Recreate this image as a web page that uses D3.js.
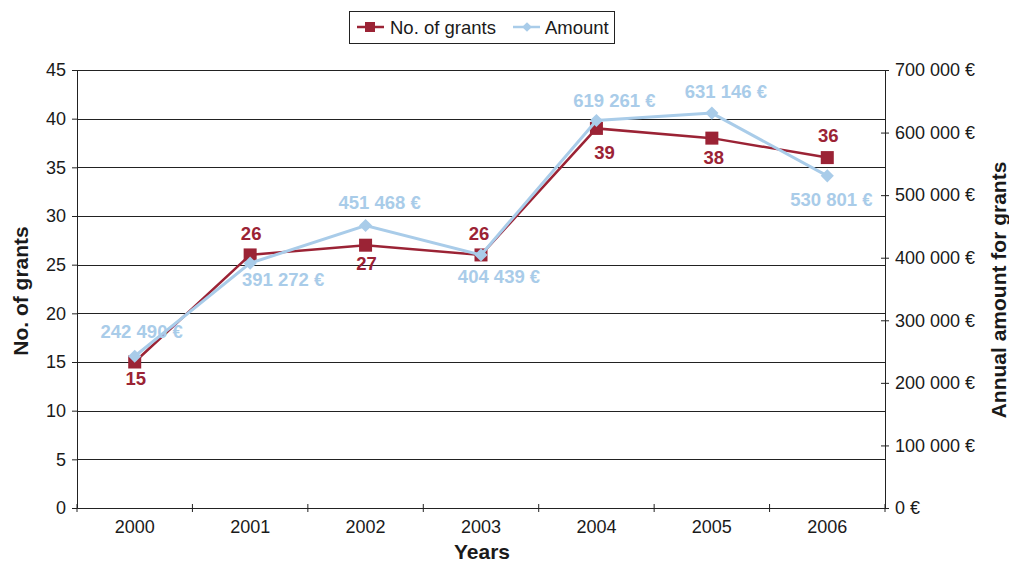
<!DOCTYPE html>
<html><head><meta charset="utf-8">
<script src="https://cdn.jsdelivr.net/npm/d3@7"></script>
<style>body{margin:0;background:#fff}svg{display:block;font-family:"Liberation Sans",Arial,sans-serif}</style>
</head><body>
<svg id="c" width="1009" height="564"></svg>
<script>
const years = ["2000","2001","2002","2003","2004","2005","2006"];
const grants = [15, 26, 27, 26, 39, 38, 36];
const amounts = [242490, 391272, 451468, 404439, 619261, 631146, 530801];
const leftTicks = [0,5,10,15,20,25,30,35,40,45];
const rightTicks = [0,100000,200000,300000,400000,500000,600000,700000];
// label placement offsets (px) relative to their point
const grantLabelDx = [1, 1, 1, -2, 8, 2, 1];
const grantLabelDy = [16, -22, 18, -22, 24, 19, -22];
const amountLabelDx = [7, 33, 14, 18, 18, 14, 4];
const amountLabelDy = [-25, 16, -23, 21, -20, -22, 23];

const red = "#9b2335", blue = "#a9cce9", ink = "#1a1a1a";
const FONT = "Liberation Sans, Arial, sans-serif";
const L = 77, R = 885, T = 70, B = 508;
const svg = d3.select("#c");
const x = d3.scaleBand().domain(years).range([L, R]);
const yL = d3.scaleLinear().domain([0,45]).range([B, T]);
const yR = d3.scaleLinear().domain([0,700000]).range([B, T]);
const fmt = v => d3.format(",")(v).replace(/,/g, " ") + " €";

// gridlines
svg.append("g").selectAll("line").data(leftTicks.filter(d=>d>0)).join("line")
  .attr("x1", L).attr("x2", R).attr("y1", d=>Math.round(yL(d))+0.5).attr("y2", d=>Math.round(yL(d))+0.5)
  .attr("stroke", "#222").attr("stroke-width", 1);

// left axis
const gl = svg.append("g").attr("transform", `translate(${L},0)`)
  .call(d3.axisLeft(yL).tickValues(leftTicks).tickSize(5).tickPadding(6));
gl.select(".domain").attr("stroke","#222");
gl.selectAll(".tick line").attr("stroke","#222");
gl.selectAll(".tick text").attr("font-size", 18).attr("fill",ink).attr("font-family",FONT);

// right axis
const gr = svg.append("g").attr("transform", `translate(${R},0)`)
  .call(d3.axisRight(yR).tickValues(rightTicks).tickSize(4).tickPadding(6).tickFormat(fmt));
gr.select(".domain").attr("stroke","#222");
gr.selectAll(".tick line").attr("stroke","#222").attr("x1", -4);
gr.selectAll(".tick text").attr("font-size", 18).attr("fill",ink).attr("font-family",FONT);

// bottom axis
const gb = svg.append("g").attr("transform", `translate(0,${B})`)
  .call(d3.axisBottom(x).tickSize(0).tickPadding(12));
gb.select(".domain").attr("stroke","#222");
gb.selectAll(".tick text").attr("font-size", 18).attr("fill",ink).attr("font-family",FONT);
svg.append("g").selectAll("line").data(years.concat(["end"])).join("line")
  .attr("x1", (d,i)=> L + i*x.bandwidth()).attr("x2", (d,i)=> L + i*x.bandwidth())
  .attr("y1", B-4).attr("y2", B+4).attr("stroke","#222");

const cx = d => x(d) + x.bandwidth()/2;

// grants line
svg.append("path").datum(grants)
  .attr("d", d3.line().x((d,i)=>cx(years[i])).y(d=>yL(d)))
  .attr("fill","none").attr("stroke", red).attr("stroke-width", 2.5);
// grant markers
svg.append("g").selectAll("rect").data(grants).join("rect")
  .attr("x",(d,i)=>cx(years[i])-6.5).attr("y",d=>yL(d)-6.5)
  .attr("width",13).attr("height",13).attr("fill", red);
// amount line
svg.append("path").datum(amounts)
  .attr("d", d3.line().x((d,i)=>cx(years[i])).y(d=>yR(d)))
  .attr("fill","none").attr("stroke", blue).attr("stroke-width", 3);
// amount markers
svg.append("g").selectAll("path").data(amounts).join("path")
  .attr("d", d3.symbol(d3.symbolDiamond2, 110)())
  .attr("transform",(d,i)=>`translate(${cx(years[i])},${yR(d)})`)
  .attr("fill", blue);

// labels
svg.append("g").selectAll("text").data(grants).join("text")
  .attr("x",(d,i)=>cx(years[i]) + grantLabelDx[i])
  .attr("y",(d,i)=>yL(d) + grantLabelDy[i]).attr("dy","0.36em")
  .attr("text-anchor","middle").attr("font-size",18.5).attr("font-weight","bold")
  .attr("fill", red).text(d=>d);
svg.append("g").selectAll("text").data(amounts).join("text")
  .attr("x",(d,i)=>cx(years[i]) + amountLabelDx[i])
  .attr("y",(d,i)=>yR(d) + amountLabelDy[i]).attr("dy","0.36em")
  .attr("text-anchor","middle").attr("font-size",18.5).attr("font-weight","bold")
  .attr("fill", blue).text(d=>fmt(d));

// axis titles
svg.append("text").attr("transform","translate(28,291) rotate(-90)")
  .attr("text-anchor","middle").attr("font-size",21).attr("font-weight","bold").attr("fill",ink)
  .text("No. of grants");
svg.append("text").attr("transform","translate(1006,290) rotate(-90)")
  .attr("text-anchor","middle").attr("font-size",21).attr("font-weight","bold").attr("fill",ink)
  .text("Annual amount for grants");
svg.append("text").attr("x",482).attr("y",559)
  .attr("text-anchor","middle").attr("font-size",21).attr("font-weight","bold").attr("fill",ink)
  .text("Years");

// legend
const lg = svg.append("g");
lg.append("rect").attr("x",349.5).attr("y",11.5).attr("width",265).attr("height",32)
  .attr("fill","#fff").attr("stroke","#222");
lg.append("line").attr("x1",357).attr("x2",384).attr("y1",27).attr("y2",27).attr("stroke",red).attr("stroke-width",2.5);
lg.append("rect").attr("x",365).attr("y",22).attr("width",10).attr("height",10).attr("fill",red);
lg.append("text").attr("x",390).attr("y",33.5).attr("font-size",18.5).attr("fill",ink).text("No. of grants");
lg.append("line").attr("x1",513).attr("x2",540).attr("y1",27).attr("y2",27).attr("stroke",blue).attr("stroke-width",2.5);
lg.append("path").attr("d", d3.symbol(d3.symbolDiamond2, 60)()).attr("transform","translate(527,27)").attr("fill",blue);
lg.append("text").attr("x",545).attr("y",33.5).attr("font-size",18.5).attr("fill",ink).text("Amount");
</script>
</body></html>
